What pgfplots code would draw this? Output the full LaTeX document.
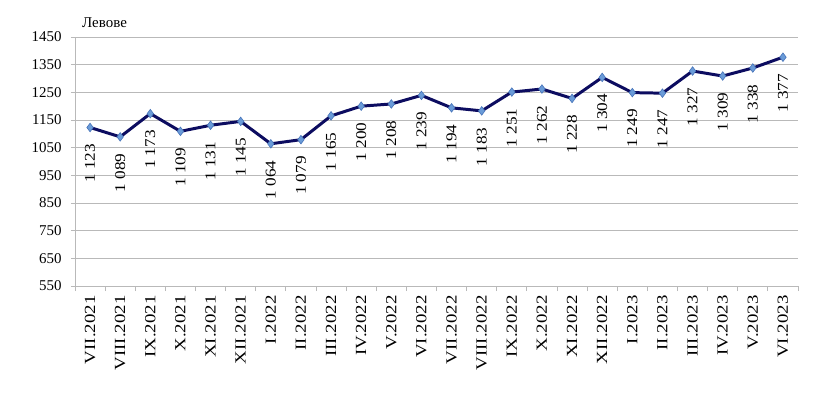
\documentclass[border=0pt]{standalone}
\usepackage{fontspec}
\setmainfont{Liberation Serif}
\usepackage{graphicx}
\usepackage{pgfplots}
\pgfplotsset{compat=1.18}
\definecolor{linenavy}{RGB}{12,12,96}
\definecolor{markfill}{RGB}{106,155,216}
\definecolor{markedge}{RGB}{70,115,185}
\definecolor{gridgray}{RGB}{185,185,185}
\newcommand\cl[1]{\scalebox{1.22}[1]{#1}}
\begin{document}
\begin{tikzpicture}[x=1bp,y=1bp]
\useasboundingbox (0,0) rectangle (831,399);
\begin{axis}[
  at={(75bp,113bp)}, anchor=south west,
  scale only axis, width=723bp, height=249bp,
  xmin=-0.5, xmax=23.5, ymin=550, ymax=1450,
  ytick={550,650,...,1450},
  xtick={0,...,23},
  xticklabels={\cl{VII.2021},\cl{VIII.2021},\cl{IX.2021},\cl{X.2021},\cl{XI.2021},\cl{XII.2021},\cl{I.2022},\cl{II.2022},\cl{III.2022},\cl{IV.2022},\cl{V.2022},\cl{VI.2022},\cl{VII.2022},\cl{VIII.2022},\cl{IX.2022},\cl{X.2022},\cl{XI.2022},\cl{XII.2022},\cl{I.2023},\cl{II.2023},\cl{III.2023},\cl{IV.2023},\cl{V.2023},\cl{VI.2023}},
  minor xtick={-0.5,0.5,...,23.5},
  x tick style={draw=none},
  minor x tick style={draw=gridgray, line width=0.8pt},
  y tick style={draw=gridgray, line width=0.8pt},
  tick align=outside,
  major tick length=4bp, minor tick length=5bp,
  ymajorgrids, major grid style={draw=gridgray, line width=0.8pt},
  axis line style={draw=gridgray, line width=0.8pt},
  axis x line*=bottom, axis y line*=left,
  x axis line style={-}, y axis line style={-},
  /pgf/number format/assume math mode=true,
  /pgf/number format/1000 sep={},
  yticklabel style={font=\fontsize{15}{15}\selectfont, xshift=-6bp},
  xticklabel style={font=\fontsize{15.5}{15.5}\selectfont, rotate=90, anchor=east, xshift=-2bp},
  nodes near coords={\scalebox{1.15}[1]{\pgfmathprintnumber[assume math mode=true,1000 sep={\ }]{\pgfplotspointmeta}}},
  every node near coord/.append style={font=\fontsize{15}{15}\selectfont, rotate=90, anchor=east, xshift=-13bp, text=black},
  clip=false,
]
\addplot[color=linenavy, line width=3pt, mark=diamond*, mark size=4.3pt,
  mark options={fill=markfill, draw=markedge, line width=0.6pt}]
coordinates {
(0,1123) (1,1089) (2,1173) (3,1109) (4,1131) (5,1145) (6,1064) (7,1079)
(8,1165) (9,1200) (10,1208) (11,1239) (12,1194) (13,1183) (14,1251) (15,1262)
(16,1228) (17,1304) (18,1249) (19,1247) (20,1327) (21,1309) (22,1338) (23,1377)
};
\end{axis}
\node[anchor=west, font=\fontsize{15}{15}\selectfont, inner sep=0pt] at (82,376) {Левове};
\end{tikzpicture}
\end{document}
